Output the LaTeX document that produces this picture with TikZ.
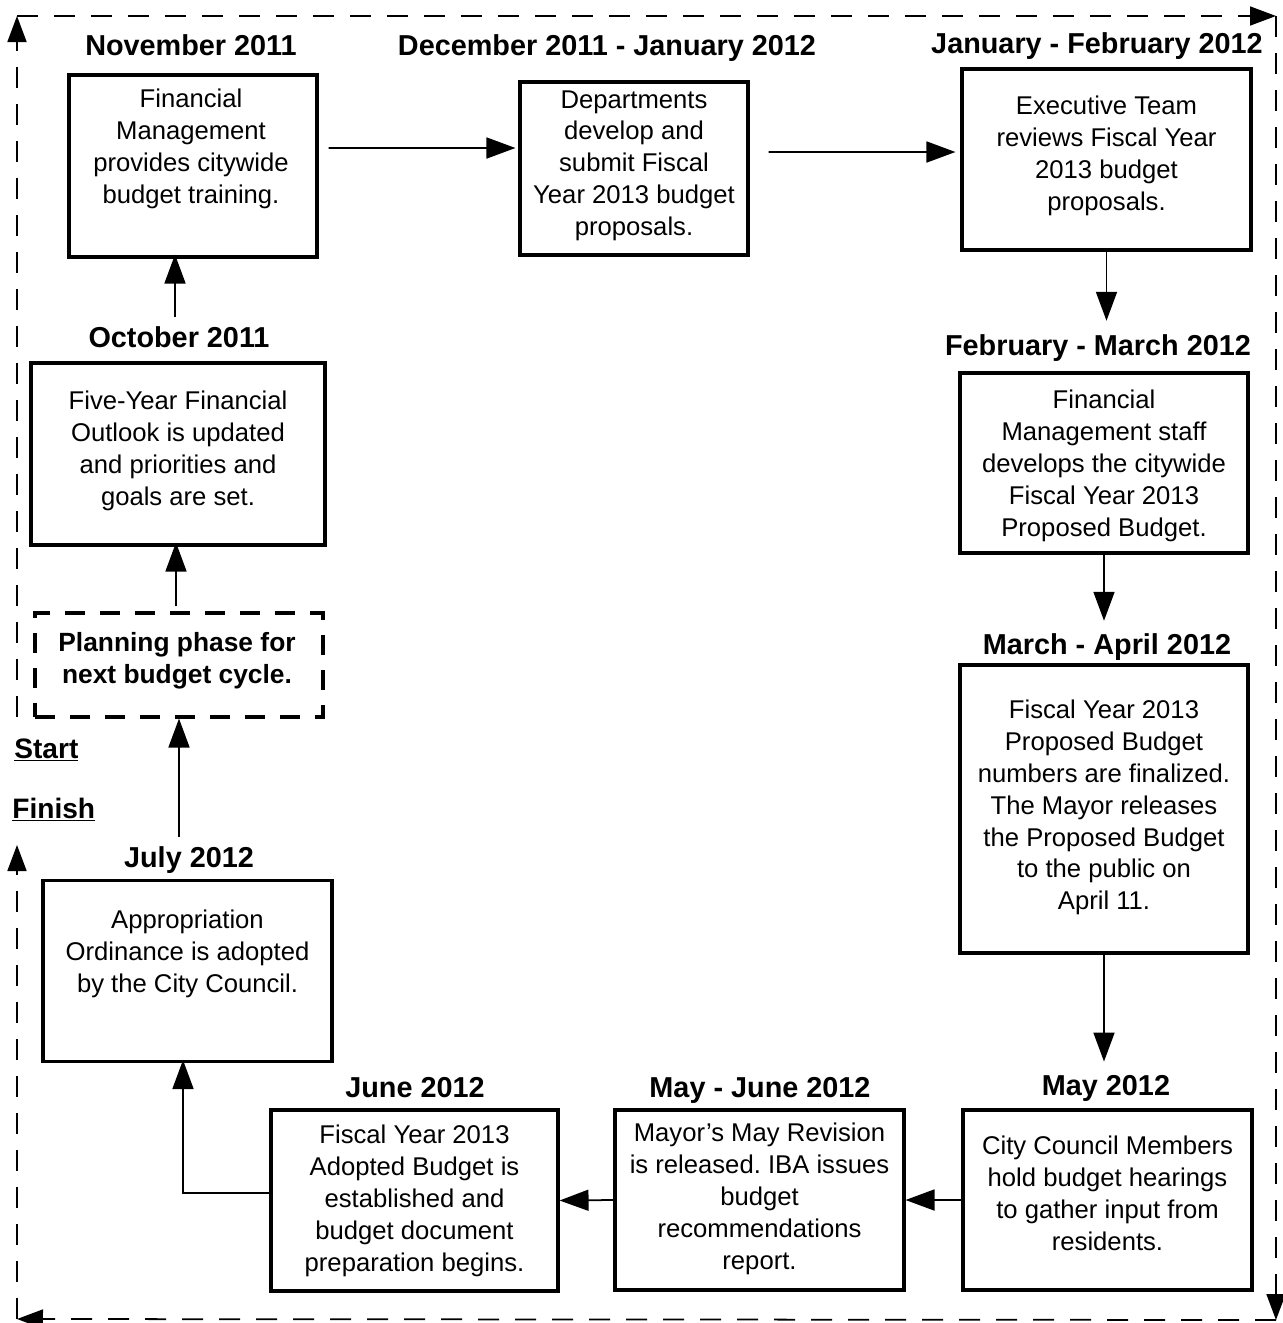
\documentclass[tikz,border=0pt]{standalone}
\usepackage{fontspec}
\setmainfont{Liberation Sans}
\usetikzlibrary{arrows.meta}
\frenchspacing

\tikzset{
	stage/.style={draw, line width=1.8pt, inner sep=0pt},
	body/.style={align=center, inner sep=0pt, anchor=north, font=\fontsize{14.6}{18.1}\selectfont},
	when/.style={inner sep=0pt, anchor=base, font=\fontsize{16.4}{19}\selectfont\bfseries},
	endlabel/.style={inner sep=0pt, anchor=base west, font=\fontsize{16}{19}\selectfont\bfseries},
	flow/.style={-{Triangle[length=0.58cm,width=0.42cm]}, line width=1pt},
	cycleline/.style={-{Triangle[length=0.52cm,width=0.38cm]}, line width=1pt, dash pattern=on 0.42cm off 0.32cm}
}

\begin{document}
\begin{tikzpicture}[x=0.02cm, y=-0.02cm]
		\useasboundingbox (0,0) rectangle (1283,1323);

		% dashed cycle round the page
		\coordinate (start) at (17,717);
		\coordinate (finish) at (17,845);
		\coordinate (tl) at (17,16);
		\coordinate (tr) at (1276,16);
		\coordinate (br) at (1276,1320);
		\coordinate (bl) at (17,1319);
		\draw[cycleline] (start) -- (tl);
		\draw[cycleline] (tl) -- (tr);
		\draw[cycleline] (tr) -- (br);
		\draw[cycleline] (br) -- (bl);
		\draw[cycleline] (bl) -- (finish);

		\node[endlabel] (start-label) at (14,758) {\underline{Start}};
		\node[endlabel] (finish-label) at (12,818) {\underline{Finish}};

		% top row
		\node[when] (nov-title) at (191,55) {November 2011};
		\node[stage, minimum width=4.96cm, minimum height=3.64cm] (nov) at (193,166) {};
		\node[body] (nov-text) at (191,89) {Financial\\Management\\provides citywide\\budget training.};

		\node[when] (dec-title) at (607,55) {December 2011 - January 2012};
		\node[stage, minimum width=4.56cm, minimum height=3.46cm] (dec) at (634,168.5) {};
		\node[body] (dec-text) at (634,90) {Departments\\develop and\\submit Fiscal\\Year 2013 budget\\proposals.};

		\node[when] (jan-title) at (1097,53) {January - February 2012};
		\node[stage, minimum width=5.78cm, minimum height=3.62cm] (jan) at (1106.5,159.5) {};
		\node[body] (jan-text) at (1106.5,96) {Executive Team\\reviews Fiscal Year\\2013 budget\\proposals.};

		% right column
		\node[when] (febmar-title) at (1098,355) {February - March 2012};
		\node[stage, minimum width=5.76cm, minimum height=3.6cm] (febmar) at (1104,463) {};
		\node[body] (febmar-text) at (1104,390) {Financial\\Management staff\\develops the citywide\\Fiscal Year 2013\\Proposed Budget.};

		\node[when] (marapr-title) at (1107,654) {March - April 2012};
		\node[stage, minimum width=5.76cm, minimum height=5.76cm] (marapr) at (1104,809) {};
		\node[body] (marapr-text) at (1104,700) {Fiscal Year 2013\\Proposed Budget\\numbers are finalized.\\The Mayor releases\\the Proposed Budget\\to the public on\\April 11.};

		% bottom row
		\node[when] (may-title) at (1106,1095) {May 2012};
		\node[stage, minimum width=5.78cm, minimum height=3.6cm] (may) at (1107.5,1200) {};
		\node[body] (may-text) at (1107.5,1136) {City Council Members\\hold budget hearings\\to gather input from\\residents.};

		\node[when] (mayjun-title) at (760,1097) {May - June 2012};
		\node[stage, minimum width=5.78cm, minimum height=3.6cm] (mayjun) at (759.5,1200) {};
		\node[body] (mayjun-text) at (759.5,1123) {Mayor’s May Revision\\is released. IBA issues\\budget\\recommendations\\report.};

		\node[when] (jun-title) at (415,1097) {June 2012};
		\node[stage, minimum width=5.74cm, minimum height=3.62cm] (jun) at (414.5,1200.5) {};
		\node[body] (jun-text) at (414.5,1125) {Fiscal Year 2013\\Adopted Budget is\\established and\\budget document\\preparation begins.};

		% left column
		\node[when] (jul-title) at (189,867) {July 2012};
		\node[stage, minimum width=5.78cm, minimum height=3.62cm] (jul) at (187.5,971) {};
		\node[body] (jul-text) at (187.5,910) {Appropriation\\Ordinance is adopted\\by the City Council.};

		\node[stage, dashed, dash pattern=on 0.4cm off 0.3cm, minimum width=5.76cm, minimum height=2.08cm] (plan) at (179,665) {};
		\node[body, font=\fontsize{15}{18}\selectfont\bfseries] (plan-text) at (177,632) {Planning phase for\\next budget cycle.};

		\node[when] (oct-title) at (179,347) {October 2011};
		\node[stage, minimum width=5.88cm, minimum height=3.64cm] (oct) at (178,454) {};
		\node[body] (oct-text) at (178,391) {Five-Year Financial\\Outlook is updated\\and priorities and\\goals are set.};

		% connectors
		\draw[flow] ([xshift=0.2cm,yshift=0.36cm]nov.east) -- ([xshift=-0.06cm,yshift=0.41cm]dec.west);
		\draw[flow] ([xshift=0.38cm,yshift=0.33cm]dec.east) -- ([xshift=-0.1cm,yshift=0.15cm]jan.west);
		\draw[flow, shorten >=0.26cm] (jan.south) -- (jan.south |- febmar-title.north);
		\draw[flow, shorten >=0.24cm] (febmar.south) -- (febmar.south |- marapr-title.north);
		\draw[flow, shorten >=0.26cm] (marapr.south) -- (marapr.south |- may-title.north);
		\draw[flow] (may.west) -- (mayjun.east);
		\draw[flow] (mayjun.west) -- (jun.east);
		\draw[flow, shorten >=-0.06cm] ([yshift=0.15cm]jun.west) -| ([xshift=-0.09cm]jul.south);
		\draw[flow, shorten <=0.18cm] (plan.south |- jul-title.north) -- (plan.south);
		\draw[flow, shorten <=0.1cm, shorten >=-0.08cm] ([xshift=-0.06cm]plan.north) -- ([xshift=-0.06cm]plan.north |- oct.south);
		\draw[flow, shorten <=0.18cm, shorten >=-0.08cm] ([xshift=-0.06cm]oct.north |- oct-title.north) -- ([xshift=-0.06cm]oct.north |- nov.south);
	\end{tikzpicture}
\end{document}
